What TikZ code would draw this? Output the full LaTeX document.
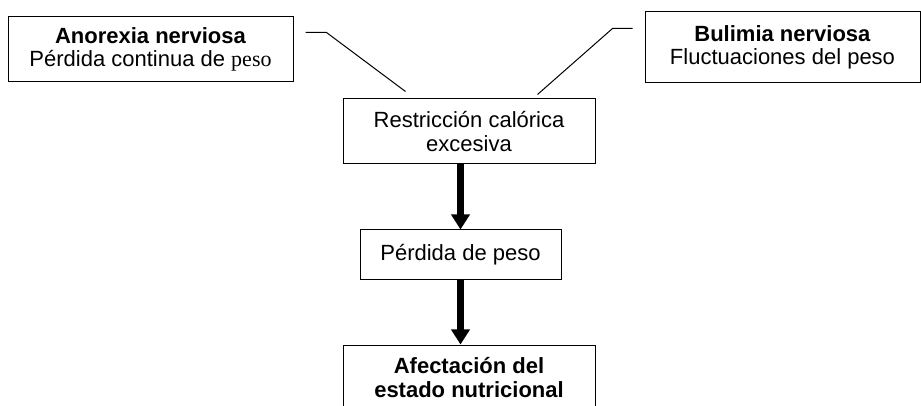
\documentclass[tikz,border=0pt]{standalone}
\usepackage{fontspec}
\setmainfont{Liberation Sans}
\newfontfamily\pesofont{Liberation Serif}
\usetikzlibrary{positioning,arrows.meta,calc}

\begin{document}
\begin{tikzpicture}[x=0.5pt,y=-0.5pt,
  box/.style={draw, line width=0.5pt, align=center, inner sep=0pt, font=\fontsize{11}{11.8}\selectfont},
  leader/.style={line width=0.5pt},
  bigarrow/.style={-{Triangle[width=9pt,length=7.5pt]}, line width=3.5pt}]
  \useasboundingbox (0,0) rectangle (921,406);
  \clip (0,0) rectangle (921,406);

  % Disorders
  \node[box, minimum width=142.5pt, minimum height=32.5pt] (anorexia) at (150.5,49.5)
    {\textbf{Anorexia nerviosa}\\P\'erdida continua de {\pesofont peso}};
  \node[box, minimum width=137.5pt, minimum height=35.5pt] (bulimia) at (782.5,47.5)
    {\textbf{Bulimia nerviosa}\\Fluctuaciones del peso};

  % Chain
  \node[box, minimum width=126pt, minimum height=32.5pt] (restriccion) at (469,131.5)
    {Restricci\'on cal\'orica\\excesiva};
  \node[box, minimum width=100.5pt, minimum height=25pt] (perdida) at (460.5,255)
    {P\'erdida de peso};
  \node[box, minimum width=126pt, minimum height=32.5pt] (afectacion) at (469,377.5)
    {\textbf{Afectaci\'on del}\\\textbf{estado nutricional}};

  % Leader lines
  \coordinate (aStart) at ($(anorexia.north east)+(12,16)$);
  \coordinate (aEnd) at ($(restriccion.north west)+(63,-7)$);
  \draw[leader] (aStart) -- ++(21,0) -- (aEnd);
  \coordinate (bStart) at ($(bulimia.north west)+(-12,17)$);
  \coordinate (bEnd) at ($(restriccion.north east)+(-58,-4)$);
  \draw[leader] (bStart) -- ++(-20,0) -- (bEnd);

  % Arrows
  \draw[bigarrow] (perdida.north |- restriccion.south) -- (perdida.north);
  \draw[bigarrow] (perdida.south) -- (perdida.south |- afectacion.north);
\end{tikzpicture}
\end{document}
